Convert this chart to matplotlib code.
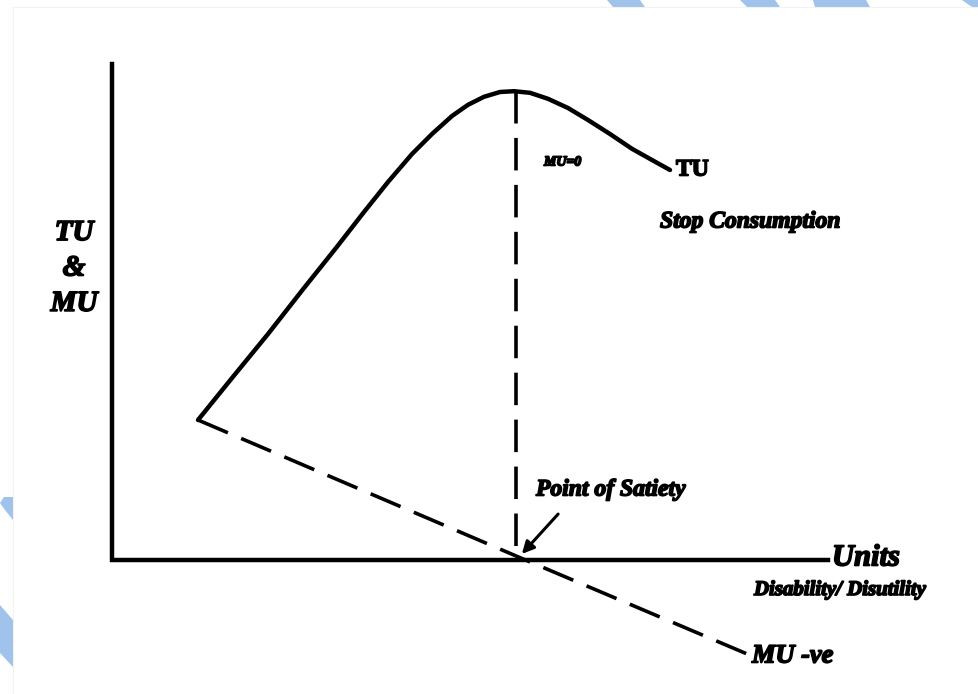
import matplotlib
matplotlib.use("Agg")
import matplotlib.pyplot as plt
import matplotlib.patheffects as pe
from matplotlib.patches import Polygon

# total utility curve (units of goods vs utility)
tu_x = [2.15, 3.0, 3.9, 4.8, 5.6, 6.3, 6.9, 7.5, 8.0, 8.5, 8.9, 9.3, 9.7, 10.05, 10.45, 10.9, 11.4, 11.9, 12.45, 13.0, 13.5, 13.95]
tu_y = [3.5, 4.55, 5.65, 6.8, 7.8, 8.7, 9.45, 10.15, 10.65, 11.1, 11.38, 11.58, 11.7, 11.72, 11.68, 11.53, 11.3, 11.0, 10.65, 10.28, 10.0, 9.75]

# marginal utility line, falling below zero after the satiety point
mu_x = [2.15, 10.15, 15.95]
mu_y = [3.5, 0.08, -2.38]

satiety_x = 10.1
peak_y = 11.72

axis_x_end = 17.9
axis_y_end = 12.4

fig = plt.figure(figsize=(9.79, 6.94), dpi=100)
ax = fig.add_axes([0, 0, 1, 1])
# one unit is 40 px, origin at (112, 560) px
ax.set_xlim(-112 / 40, (979 - 112) / 40)
ax.set_ylim(-(694 - 560) / 40, 560 / 40)
ax.axis("off")

heavy = [pe.withStroke(linewidth=1.2, foreground="black")]
bi = dict(family="Liberation Serif", fontweight="bold", fontstyle="italic",
          color="black", path_effects=heavy)

# axes
ax.plot([0, 0, axis_x_end], [axis_y_end, 0, 0], color="black", lw=3.2, solid_joinstyle="miter")

# curves
ax.plot(tu_x, tu_y, color="black", lw=3.2, solid_capstyle="round", solid_joinstyle="round")
ax.plot(mu_x, mu_y, color="black", lw=2.6, dashes=(9, 4))
ax.plot([satiety_x, satiety_x], [peak_y, 0], color="black", lw=2.6, dashes=(9, 4))

# labels
ax.text(-0.95, 7.3, "TU\n&\nMU", ha="center", va="center", fontsize=21, linespacing=1.4, **bi)
ax.text(tu_x[-1] + 0.15, tu_y[-1], "TU", ha="left", va="center", fontsize=17,
        family="Liberation Serif", fontweight="bold", color="black", path_effects=heavy)
ax.text(10.8, 9.95, "MU=0", ha="left", va="center", fontsize=10, **bi)
ax.text(13.7, 8.45, "Stop Consumption", ha="left", va="center", fontsize=17, **bi)
ax.text(10.6, 1.75, "Point of Satiety", ha="left", va="center", fontsize=17, **bi)
ax.text(18.0, 0.05, "Units", ha="left", va="center", fontsize=22, **bi)
ax.text(16.05, -0.75, "Disability/ Disutility", ha="left", va="center", fontsize=15, **bi)
ax.text(16.0, -2.4, "MU -ve", ha="left", va="center", fontsize=19, **bi)

ax.annotate("", xy=(10.2, 0.1), xytext=(11.2, 1.2),
            arrowprops=dict(arrowstyle="-|>", color="black", lw=2.2, mutation_scale=18))

# faint page border and blue decoration along the top and left edges
fig.add_artist(plt.Line2D([13 / 979, 1], [1 - 7 / 694, 1 - 7 / 694], color="#f2f2f2", lw=0.8))
fig.add_artist(plt.Line2D([13 / 979, 13 / 979], [0, 1 - 7 / 694], color="#f2f2f2", lw=0.8))
blue = "#9fc3ea"
shapes = [
    [(607, 0), (640, 0), (645, 7), (613, 7)],
    [(740, 0), (775, 0), (780, 7), (747, 7)],
    [(813, 0), (866, 0), (870, 7), (815, 7)],
    [(962, 0), (979, 0), (979, 7), (972, 7)],
    [(4, 497), (13, 497), (13, 520), (5, 510), (0, 503)],
    [(0, 605), (13, 620), (13, 667), (0, 653)],
]
for s in shapes:
    fig.patches.append(Polygon([(px / 979, 1 - py / 694) for px, py in s], closed=True,
                               transform=fig.transFigure, facecolor=blue, edgecolor="none"))

fig.savefig("out.png", dpi=100)
